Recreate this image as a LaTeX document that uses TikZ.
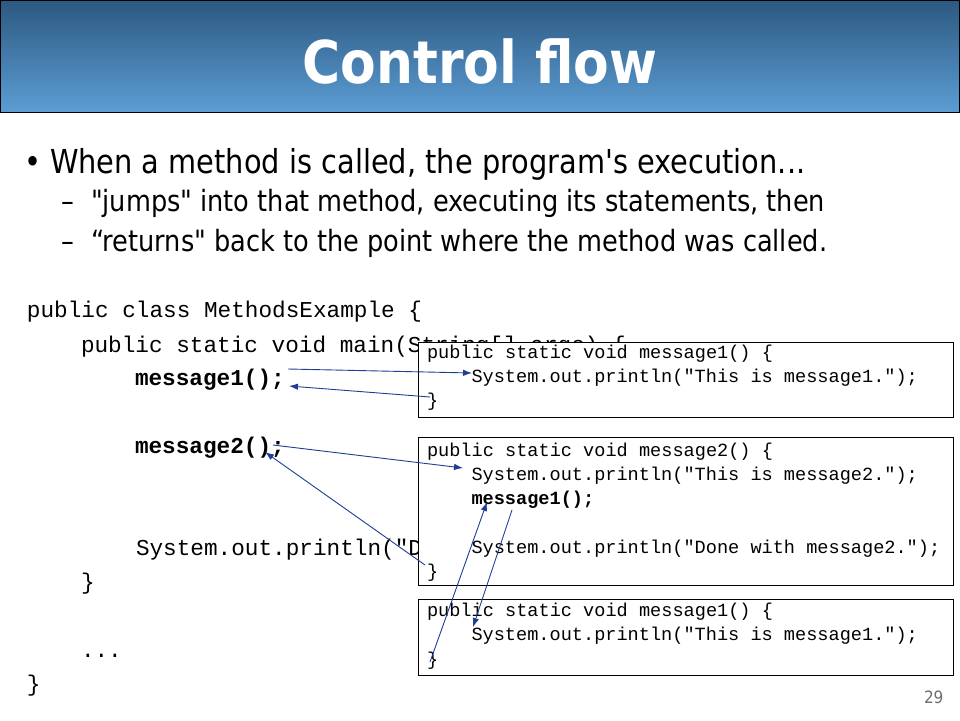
\documentclass[tikz,border=0pt]{standalone}
\usepackage{fontspec}
\usepackage{graphicx}
\setmainfont{DejaVu Sans}
\newfontfamily\bodyfont{DejaVu Sans}
\newfontfamily\codefont{Liberation Mono}
\usetikzlibrary{arrows.meta}
\definecolor{bandtop}{RGB}{44,88,128}
\definecolor{bandbot}{RGB}{92,157,212}
\definecolor{arrowblue}{RGB}{30,62,150}
\definecolor{pagegray}{RGB}{110,110,110}
\begin{document}
\begin{tikzpicture}[x=1pt,y=-1pt,
  txt/.style={anchor=base west,inner sep=0pt,outer sep=0pt},
  code/.style={txt,font=\codefont\fontsize{22.7}{27}\selectfont},
  bcode/.style={txt,font=\codefont\bfseries\fontsize{22.7}{27}\selectfont},
  boxcode/.style={txt,font=\codefont\fontsize{18.6}{22}\selectfont},
  boxbcode/.style={txt,font=\codefont\bfseries\fontsize{18.6}{22}\selectfont},
  bodyA/.style={txt,font=\bodyfont\fontsize{33}{38}\selectfont},
  bodyB/.style={txt,font=\bodyfont\fontsize{29.3}{34}\selectfont},
  codebox/.style={draw=black,fill=white,line width=1pt,anchor=north west,inner sep=0pt,minimum width=535pt},
  flow/.style={draw=arrowblue,line width=0.9pt,-{Latex[length=9pt,width=6.5pt]}},
]
\useasboundingbox (0,0) rectangle (960,720);
\fill[white] (0,0) rectangle (960,720);
% title band
\shade[top color=bandtop,bottom color=bandbot] (0,0) rectangle (960,112);
\draw[black,line width=1pt] (0.5,0.5) rectangle (959.5,112);
\node[inner sep=0pt,text=white,font=\bfseries\fontsize{59}{64}\selectfont] (title) at (480,62) {\scalebox{0.88}[1]{Control flow}};
% bullets
\node[bodyA] (bul) at (24,173) {\scalebox{0.874}[1]{•}};
\node[bodyA] (l1) at (50,173) {\scalebox{0.874}[1]{When a method is called, the program's execution...}};
\node[bodyB] (d1) at (61,211) {\scalebox{0.874}[1]{–}};
\node[bodyB] (l2) at (91,211) {\scalebox{0.874}[1]{"jumps" into that method, executing its statements, then}};
\node[bodyB] (d2) at (61,251) {\scalebox{0.874}[1]{–}};
\node[bodyB] (l3) at (91,251) {\scalebox{0.874}[1]{“returns" back to the point where the method was called.}};
% main code
\node[code] (c1) at (27,317) {public class MethodsExample \{};
\node[code] (c2) at (81,352) {public static void main(String[] args) \{};
\node[bcode] (m1call) at (135,385) {message1();};
\node[bcode] (m2call) at (135,453) {message2();};
\node[code] (c8) at (136,555) {System.out.println("D};
\node[code] (c9) at (81,589) {\}};
\node[code] (c11) at (81,657) {...};
\node[code] (c12) at (27,691) {\}};
% box 1
\node[codebox,minimum height=75pt] (box1) at (418,342) {};
\node[boxcode] (b1a) at (427,358) {public static void message1() \{};
\node[boxcode] (b1b) at (471.5,382) {System.out.println("This is message1.");};
\node[boxcode] (b1c) at (427,406) {\}};
% box 2
\node[codebox,minimum height=148pt] (box2) at (418,437) {};
\node[boxcode] (b2a) at (427,456) {public static void message2() \{};
\node[boxcode] (b2b) at (471.5,480) {System.out.println("This is message2.");};
\node[boxbcode] (b2c) at (471.5,504) {message1();};
\node[boxcode] (b2d) at (471.5,553) {System.out.println("Done with message2.");};
\node[boxcode] (b2e) at (427,577) {\}};
% box 3
\node[codebox,minimum height=76pt] (box3) at (418,599) {};
\node[boxcode] (b3a) at (427,616) {public static void message1() \{};
\node[boxcode] (b3b) at (471.5,640) {System.out.println("This is message1.");};
\node[boxcode] (b3c) at (427,665) {\}};
% page number
\node[txt,text=pagegray,font=\bodyfont\fontsize{17}{20}\selectfont] (pg) at (924,703) {\scalebox{0.9}[1]{29}};
% connectors
\coordinate (a1s) at (288,369);
\coordinate (a1e) at (472,373);
\coordinate (a2s) at (430,397);
\coordinate (a2e) at (289,386);
\coordinate (a3s) at (273,445);
\coordinate (a3e) at (463,468);
\coordinate (a4s) at (425,565);
\coordinate (a4e) at (265,452);
\coordinate (a5s) at (512,510);
\coordinate (a5e) at (473,627);
\coordinate (a6s) at (430,662);
\coordinate (a6e) at (487,502);
\draw[flow] (a1s) -- (a1e);
\draw[flow] (a2s) -- (a2e);
\draw[flow] (a3s) -- (a3e);
\draw[flow] (a4s) -- (a4e);
\draw[flow] (a5s) -- (a5e);
\draw[flow] (a6s) -- (a6e);
\end{tikzpicture}
\end{document}
